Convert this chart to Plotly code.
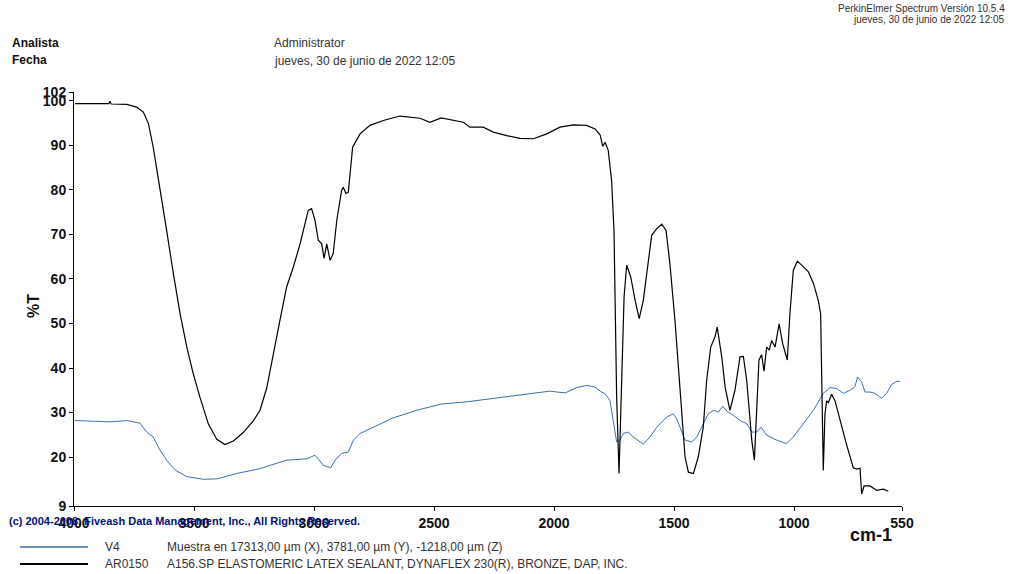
import plotly.graph_objects as go

# --- Spectrum data: wavenumber (cm-1) and transmittance (%T) ---
v4_wavenumber = [3996, 3850, 3780, 3725, 3697, 3670, 3642, 3614, 3579, 3530, 3461, 3405, 3322,
                 3225, 3114, 3030, 2996, 2982, 2961, 2930, 2912, 2885, 2857, 2836, 2808, 2739,
                 2670, 2572, 2470, 2364, 2267, 2128, 2017, 1954, 1905, 1864, 1829, 1808, 1787,
                 1767, 1753, 1739, 1725, 1711, 1690, 1670, 1628, 1600, 1572, 1530, 1503, 1489,
                 1475, 1454, 1426, 1405, 1378, 1357, 1336, 1315, 1297, 1280, 1253, 1225, 1197,
                 1176, 1156, 1137, 1114, 1072, 1031, 1003, 961, 919, 878, 850, 822, 794, 767,
                 746, 735, 718, 704, 683, 663, 635, 614, 593, 572, 558]
v4_transmittance = [28.2, 27.9, 28.2, 27.6, 25.6, 24.5, 21.6, 19.3, 17.1, 15.6, 15.0, 15.1, 16.3,
                    17.4, 19.3, 19.6, 20.4, 19.6, 18.1, 17.6, 19.3, 20.8, 21.1, 23.8, 25.3, 27.1,
                    28.8, 30.5, 31.9, 32.4, 33.1, 34.1, 34.8, 34.4, 35.6, 36.1, 35.7, 34.8, 34.2,
                    32.7, 27.5, 23.4, 23.8, 25.3, 25.6, 24.5, 22.9, 24.5, 26.7, 29.0, 29.7, 28.6,
                    26.7, 23.8, 23.4, 24.5, 27.5, 29.7, 30.5, 30.1, 31.4, 30.3, 29.4, 28.2, 27.5,
                    25.6, 25.6, 26.7, 24.9, 23.8, 23.0, 24.5, 27.5, 30.5, 34.3, 35.6, 35.4, 34.3,
                    35.0, 35.8, 38.0, 36.9, 34.6, 34.6, 34.3, 33.2, 34.3, 36.3, 37.0, 37.0]

ar0150_wavenumber = [3996, 3920, 3855, 3850, 3845, 3780, 3739, 3711, 3690, 3670, 3642, 3614, 3586,
                     3558, 3530, 3503, 3475, 3440, 3405, 3371, 3336, 3295, 3253, 3225, 3197, 3170,
                     3142, 3114, 3086, 3058, 3024, 3010, 2996, 2982, 2968, 2958, 2947, 2933, 2920,
                     2905, 2885, 2878, 2867, 2857, 2850, 2839, 2808, 2767, 2711, 2642, 2558, 2517,
                     2470, 2420, 2378, 2350, 2295, 2253, 2197, 2142, 2086, 2030, 1975, 1920, 1864,
                     1829, 1808, 1797, 1787, 1774, 1760, 1750, 1746, 1739, 1729, 1718, 1708, 1697,
                     1680, 1662, 1645, 1628, 1611, 1593, 1572, 1551, 1533, 1517, 1496, 1475, 1454,
                     1440, 1419, 1399, 1378, 1364, 1347, 1329, 1320, 1301, 1287, 1267, 1246, 1225,
                     1211, 1197, 1176, 1165, 1156, 1146, 1135, 1125, 1114, 1103, 1093, 1079, 1062,
                     1047, 1028, 1017, 1003, 986, 968, 940, 919, 899, 889, 885, 878, 871, 864, 857,
                     843, 829, 808, 781, 753, 739, 725, 718, 708, 683, 655, 628, 607]
ar0150_transmittance = [99.4, 99.4, 99.4, 99.9, 99.3, 99.2, 98.6, 97.5, 94.9, 89.6, 80.6, 70.9, 61.2,
                        52.2, 44.7, 38.7, 33.4, 27.4, 24.0, 22.8, 23.6, 25.5, 28.1, 30.5, 35.5, 43.2,
                        50.7, 58.2, 62.7, 67.9, 75.4, 75.8, 73.2, 68.7, 67.9, 64.6, 67.9, 64.2, 65.7,
                        73.2, 79.9, 80.6, 79.2, 79.5, 83.6, 89.6, 92.6, 94.5, 95.6, 96.6, 96.1, 95.2,
                        96.2, 95.6, 95.2, 94.1, 94.1, 93.0, 92.2, 91.6, 91.5, 92.6, 94.1, 94.6, 94.5,
                        93.7, 92.4, 89.8, 90.7, 88.9, 82.1, 70.9, 53.7, 33.5, 16.3, 37.3, 56.0, 63.1,
                        60.4, 55.2, 51.1, 55.2, 62.7, 69.8, 71.3, 72.3, 70.9, 63.4, 50.7, 35.0, 20.0,
                        16.6, 16.3, 20.0, 26.7, 37.2, 44.7, 47.0, 49.2, 42.5, 35.7, 30.5, 35.0, 42.5,
                        42.6, 37.2, 23.8, 19.3, 29.1, 41.8, 43.0, 39.3, 44.7, 44.0, 46.2, 44.7, 49.9,
                        45.4, 41.8, 52.2, 61.9, 64.0, 63.1, 61.6, 59.0, 55.2, 52.2, 37.2, 17.0, 29.6,
                        32.6, 32.2, 34.1, 32.6, 28.1, 22.8, 17.6, 17.3, 17.5, 11.7, 13.5, 13.5, 12.5,
                        12.8, 12.3]

x_ticks = [4000, 3500, 3000, 2500, 2000, 1500, 1000, 550]
y_ticks = [9, 20, 30, 40, 50, 60, 70, 80, 90, 100, 102]

BLUE = "#3a70b0"
FONT = "Arial, Liberation Sans, sans-serif"

# page geometry (pixels)
W, H = 1016, 574
L, R, T, B = 74, 114, 92, 68
PW, PH = W - L - R, H - T - B


def px(x, y):
    """Convert page pixel coordinates to paper coordinates."""
    return (x - L) / PW, (H - B - y) / PH


fig = go.Figure()
fig.add_trace(go.Scatter(x=v4_wavenumber, y=v4_transmittance, mode="lines",
                         line=dict(color=BLUE, width=1), name="V4", hoverinfo="skip"))
fig.add_trace(go.Scatter(x=ar0150_wavenumber, y=ar0150_transmittance, mode="lines",
                         line=dict(color="#000000", width=1.2), name="AR0150", hoverinfo="skip"))

annotations = []


def text(x, y, s, size=12, color="#222222", bold=False, xanchor="left", angle=0):
    ax, ay = px(x, y)
    annotations.append(dict(x=ax, y=ay, xref="paper", yref="paper", text=s, showarrow=False,
                            xanchor=xanchor, yanchor="middle", textangle=angle,
                            font=dict(family=FONT, size=size, color=color,
                                      weight="bold" if bold else "normal")))


# header
text(10, 43, "Analista", size=12, color="#111111", bold=True)
text(10, 60, "Fecha", size=12, color="#111111", bold=True)
text(272, 43, "Administrator", size=12, color="#333333")
text(272, 61, "jueves, 30 de junio de 2022 12:05", size=12, color="#333333")
text(1007, 8, "PerkinElmer Spectrum Versión 10.5.4", size=10, color="#333333", xanchor="right")
text(1007, 19, "jueves, 30 de junio de 2022 12:05", size=10, color="#333333", xanchor="right")

# axis titles
text(33, 306, "%T", size=16, color="#111111", bold=True, xanchor="center", angle=-90)
text(871, 535, "cm-1", size=18, color="#111111", bold=True, xanchor="center")

# copyright line (printed across the x tick labels)
text(7, 521, "(c) 2004-2008, Fiveash Data Management, Inc., All Rights Reserved.",
     size=11, color="#00107a", bold=True)

# legend rows
text(103, 547, "V4", size=12, color="#333333")
text(165, 547, "Muestra en 17313,00 µm (X), 3781,00 µm (Y), -1218,00 µm (Z)", size=12, color="#333333")
text(103, 564, "AR0150", size=12, color="#333333")
text(165, 564, "A156.SP ELASTOMERIC LATEX SEALANT, DYNAFLEX 230(R), BRONZE, DAP, INC.",
     size=12, color="#333333")

shapes = []
for yy, col, wd in [(547, BLUE, 1.5), (564, "#000000", 2)]:
    x0, y0 = px(20, yy)
    x1, _ = px(88, yy)
    shapes.append(dict(type="line", xref="paper", yref="paper", x0=x0, x1=x1, y0=y0, y1=y0,
                       line=dict(color=col, width=wd)))

tickfont = dict(family=FONT, size=14, color="#111111", weight="bold")

fig.update_layout(
    width=W, height=H,
    margin=dict(l=L, r=R, t=T, b=B),
    paper_bgcolor="white", plot_bgcolor="white",
    showlegend=False,
    annotations=annotations,
    shapes=shapes,
    xaxis=dict(range=[4000, 550], tickvals=x_ticks, ticktext=[str(v) for v in x_ticks],
               showgrid=False, zeroline=False, showline=True, linecolor="#000000", linewidth=1,
               ticks="outside", ticklen=4, tickcolor="#000000", tickfont=tickfont,
               fixedrange=True),
    yaxis=dict(range=[9, 102], tickvals=y_ticks, ticktext=[str(v) for v in y_ticks],
               showgrid=False, zeroline=False, showline=True, linecolor="#000000", linewidth=1,
               ticks="outside", ticklen=4, tickcolor="#000000", tickfont=tickfont,
               fixedrange=True),
)

fig.write_html("out.html", config={"displayModeBar": False})
